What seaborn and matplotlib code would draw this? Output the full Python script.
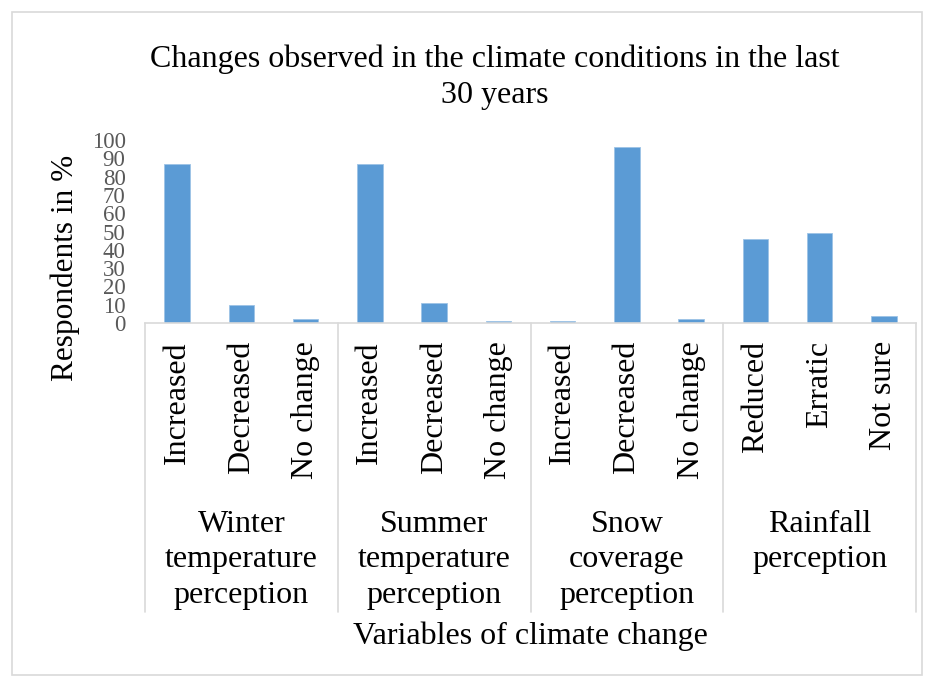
import matplotlib
matplotlib.use("Agg")
import matplotlib.pyplot as plt
import matplotlib.transforms as mtransforms
from matplotlib.patches import Rectangle
import seaborn as sns
import pandas as pd

# Survey responses (% of respondents)
groups = ["Winter\ntemperature\nperception", "Summer\ntemperature\nperception",
          "Snow\ncoverage\nperception", "Rainfall\nperception"]
group_answers = [
    ["Increased", "Decreased", "No change"],
    ["Increased", "Decreased", "No change"],
    ["Increased", "Decreased", "No change"],
    ["Reduced", "Erratic", "Not sure"],
]
winter_values = [87, 10, 2]
summer_values = [87, 11, 1]
snow_values = [1, 96, 2]
rainfall_values = [46, 49, 4]
y_ticks = [0, 10, 20, 30, 40, 50, 60, 70, 80, 90, 100]

series = [winter_values, summer_values, snow_values, rainfall_values]
rows = []
for g, answers, vals in zip(groups, group_answers, series):
    for a, v in zip(answers, vals):
        rows.append({"key": f"{g}|{a}", "group": g, "answer": a, "pct": v})
df = pd.DataFrame(rows)

sns.set_theme(style="white")
plt.rcParams["font.family"] = ["Liberation Serif", "DejaVu Serif"]
plt.rcParams["text.color"] = "black"

FS = 23
W, H = 926, 679
fig = plt.figure(figsize=(W / 100, H / 100), dpi=100)
left, right, base, top = 145, 916, 323, 140
ax = fig.add_axes([left / W, 1 - base / H, (right - left) / W, (base - top) / H])

sns.barplot(data=df, x="key", y="pct", order=list(df["key"]), color="#5B9BD5",
            saturation=1, width=0.4, edgecolor="#9DC3E6", linewidth=0.6, ax=ax)

ax.set_xlim(-0.5, len(df) - 0.5)
ax.set_ylim(0, 100)
ax.set_yticks(y_ticks)
ax.set_yticklabels([str(t) for t in y_ticks], fontsize=16.5, color="#595959")
ax.tick_params(axis="y", length=0, pad=14)
ax.set_xticks(range(len(df)))
ax.set_xticklabels(df["answer"], rotation=90, fontsize=FS, color="black")
ax.tick_params(axis="x", length=0, pad=13)
ax.set_xlabel("")
ax.set_ylabel("")
for s in ["top", "right", "left"]:
    ax.spines[s].set_visible(False)
ax.spines["bottom"].set_color("#D9D9D9")
ax.spines["bottom"].set_linewidth(1.2)

# group dividers below the category axis
trans = mtransforms.blended_transform_factory(ax.transData, ax.transAxes)
sep_bottom = (base - 612) / (base - top)
n = 0
for i, answers in enumerate(group_answers):
    ax.plot([n - 0.5, n - 0.5], [0, sep_bottom], transform=trans, color="#D9D9D9",
            lw=1.2, clip_on=False)
    n += len(answers)
ax.plot([n - 0.5, n - 0.5], [0, sep_bottom], transform=trans, color="#D9D9D9",
        lw=1.2, clip_on=False)

# group names
n = 0
grp_top = (base - 510) / (base - top)
for g, answers in zip(groups, group_answers):
    center = n + (len(answers) - 1) / 2
    ax.text(center, grp_top, g, transform=trans, ha="center", va="top",
            multialignment="center", fontsize=FS, linespacing=1.29)
    n += len(answers)

fig.text(495 / W, 1 - 77 / H,
         "Changes observed in the climate conditions in the last\n30 years",
         ha="center", va="center", fontsize=FS, linespacing=1.33)
fig.text(530 / W, 1 - 636 / H, "Variables of climate change",
         ha="center", va="center", fontsize=FS)
fig.text(65 / W, 1 - 268 / H, "Respondents in %", rotation=90,
         ha="center", va="center", fontsize=22.5)

fig.patches.append(Rectangle((12 / W, 1 - 675 / H), (922 - 12) / W, (675 - 12) / H,
                             transform=fig.transFigure, fill=False,
                             edgecolor="#D9D9D9", lw=1.2))

fig.savefig("out.png", dpi=100)
